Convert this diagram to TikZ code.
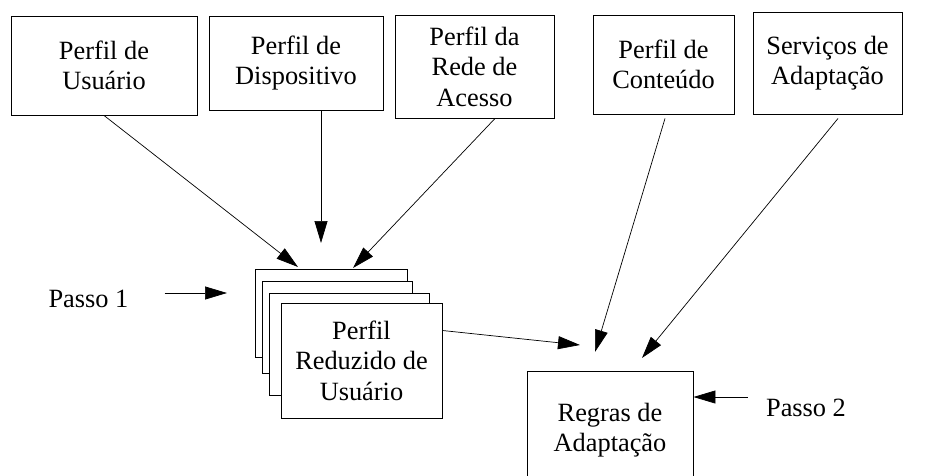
\documentclass[tikz,border=0pt]{standalone}
\usepackage{fontspec}
\setmainfont{Liberation Serif}
\usetikzlibrary{arrows.meta,calc}

\begin{document}
\begin{tikzpicture}[x=0.03cm,y=-0.03cm,
    texto/.style={font=\fontsize{22.5}{26}\selectfont,align=center,inner sep=0pt},
    caixa/.style={texto,draw,line width=0.8pt,fill=white},
    tam/.style 2 args={minimum width=#1*0.03cm,minimum height=#2*0.03cm},
    seta/.style={line width=0.6pt,-{Triangle[length=6.6mm,width=3.9mm]}}]
  \useasboundingbox (0,0) rectangle (952,475);

  % perfis de entrada
  \node[caixa,tam={186}{99}]  (usuario)     at (104,65.5)   {Perfil de\\Usuário};
  \node[caixa,tam={174}{94}]  (dispositivo) at (296,63)     {Perfil de\\Dispositivo};
  \node[caixa,tam={159}{103}] (rede)        at (474.5,66.5) {Perfil da\\Rede de\\Acesso};
  \node[caixa,tam={141}{99}]  (conteudo)    at (663.5,64.5) {Perfil de\\Conteúdo};
  \node[caixa,tam={149}{102}] (servicos)    at (827.5,63)   {Serviços de\\Adaptação};

  % pilha do perfil reduzido
  \node[caixa,tam={152}{88}]  (pilhaA)   at (331,313)     {};
  \node[caixa,tam={150}{92}]  (pilhaB)   at (337,327)     {};
  \node[caixa,tam={160}{102}] (pilhaC)   at (349,344)     {};
  \node[caixa,tam={161}{115}] (reduzido) at (361.5,360.5) {Perfil\\Reduzido de\\Usuário};

  % regras (cortada na borda de baixo)
  \node[caixa,tam={166}{118}] (regras) at (610,430) {Regras de\\Adaptação};

  % passos
  \node[texto] (passo1) at (88.5,299) {Passo 1};
  \node[texto] (passo2) at (806,408)  {Passo 2};

  % pontas das setas
  \coordinate (t1) at (298,267);
  \coordinate (t2) at (321,243);
  \coordinate (t3) at (353,268);
  \coordinate (t4) at (580,345);
  \coordinate (t5) at (595,352);
  \coordinate (t6) at (642,358);
  \coordinate (t7) at (227,293);

  \draw[seta] (usuario.south) -- (t1);
  \draw[seta] (dispositivo.south -| t2) -- (t2);
  \draw[seta] ($(rede.south)+(20.5,0)$) -- (t3);
  \draw[seta] ($(reduzido.east)+(0,-30)$) -- (t4);
  \draw[seta] ($(conteudo.south)+(1.5,4)$) -- (t5);
  \draw[seta] ($(servicos.south)+(10.5,4)$) -- (t6);
  \draw[seta] ($(passo1.east)+(36,-6)$) -- (t7);
  \draw[seta] ($(passo2.west)+(-18,-11)$) -- (regras.east |- 0,397);

\end{tikzpicture}
\end{document}
